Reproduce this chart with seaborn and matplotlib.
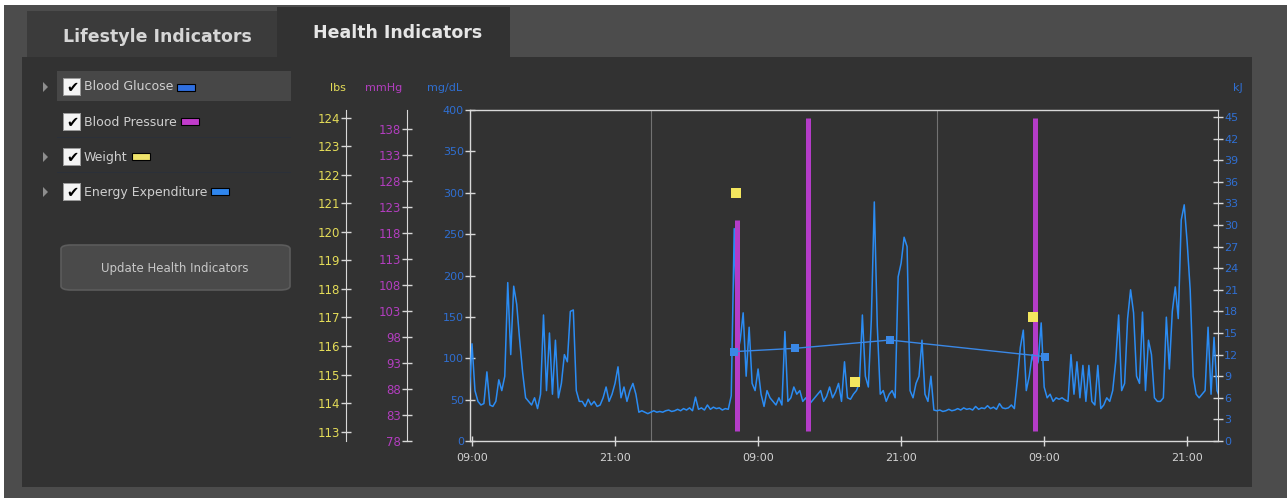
import matplotlib
matplotlib.use("Agg")
import matplotlib.pyplot as plt
import matplotlib.dates as mdates
from matplotlib.patches import Rectangle, FancyBboxPatch, Polygon
import pandas as pd
import seaborn as sns

W, H = 1287, 498

# energy expenditure (kJ), one reading every 15 min starting 08:45 on day 1
ee_start = "2013-05-06 08:45"
ee_freq = "15min"
ee_day1 = [5.8, 13.5, 7, 5.5, 5,
           5.2, 9.6, 5, 4.8, 5.5, 8.5, 7, 9, 22, 12, 21.5, 19,
           14, 9.5, 6, 5.5, 5, 6, 4.5, 6.5, 17.5, 7, 15, 6.5,
           14, 6, 8, 12, 11, 18, 18.2, 7, 5.5, 5.5, 4.8, 5.8,
           5, 5.5, 4.8, 5, 6, 7.5, 5.5, 6.5, 8, 10.3, 6, 7.5,
           5.5, 7, 8, 6.5, 4, 4.2, 4, 3.8]
ee_day2 = [4, 4.2, 4, 4.1, 4, 4.2, 4.3, 4.1, 4.2, 4.4, 4.2, 4.5,
           4.3, 4.6, 4.2, 6.1, 4.4, 4.6, 4.3, 5, 4.4, 4.7, 4.5, 4.6,
           4.3, 4.5, 4.4, 6.3, 29.5, 12, 14, 17.8, 9, 15.8, 8, 7,
           10, 6.5, 4.8, 7, 6, 5.5, 5, 6, 5, 15.2, 5.5, 6,
           7.5, 6.5, 7, 5.5, 6, 5, 5.5, 6, 6.5, 7, 5.5, 6.2,
           7.5, 6, 6.8, 8, 5.5, 11, 6, 5.8, 6.5, 7, 8, 17.5,
           9, 7.5, 16.8, 33.2, 16, 6.5, 7, 5.5, 6.5, 7, 6, 22.8,
           24.7, 28.3, 27, 7, 6, 8, 9, 14, 6.5, 5.5, 9, 4.3]
ee_day3 = [4.2, 4.3, 4.1, 4.2, 4.4, 4.2, 4.3, 4.5, 4.3, 4.6, 4.4, 4.5,
           4.3, 4.8, 4.4, 4.6, 4.5, 4.9, 4.5, 4.7, 4.4, 5.2, 4.6, 4.5,
           4.6, 5, 4.5, 8.5, 13, 15.4, 7, 9, 12, 10, 11, 16.4,
           7.5, 6, 6.5, 5.5, 6, 5.8, 6, 5.7, 5.5, 12, 6.5, 11,
           6, 10.5, 5.5, 10.5, 5.5, 5, 10.5, 4.5, 5, 6, 5.5, 7,
           11, 17.5, 7, 8, 17, 21, 17.8, 9, 8, 17.9, 7, 14,
           12, 6, 5.5, 5.5, 6, 17.2, 10, 18, 21.4, 17, 30.7, 32.8,
           27.5, 21, 9, 6.5, 6, 6.5, 7, 15.8, 6.5, 14.4, 7, 6]

glucose_time = ["2013-05-07 06:59", "2013-05-07 12:06", "2013-05-07 20:04", "2013-05-08 09:04"]
glucose_mgdl = [108, 112, 122, 102]

bp_time = ["2013-05-07 07:14", "2013-05-07 13:11", "2013-05-08 08:14"]
bp_systolic = [120.5, 140.2, 140.2]
bp_diastolic = [80, 80, 80]

weight_time = ["2013-05-07 07:09", "2013-05-07 17:08", "2013-05-08 08:04"]
weight_lbs = [121.35, 114.75, 117.0]

view_start, view_end = "2013-05-06 08:50", "2013-05-08 23:35"

legend_labels = ["Blood Glucose", "Blood Pressure", "Weight", "Energy Expenditure"]
legend_colors = ["#2f6fe0", "#c23ccc", "#efe36a", "#2f86ee"]
legend_expand = [True, False, True, True]

c_lbs, c_mmhg, c_blue = "#e4dc58", "#b23ebf", "#2f6fd2"
c_trace, c_bar, c_weight = "#2b8cf3", "#b43cc8", "#f3e65e"
panel = "#323232"
axis_white = "#d8d8d8"

sns.set_style("dark", {"axes.facecolor": "none", "figure.facecolor": "white"})
plt.rcParams["font.family"] = ["DejaVu Sans"]

fig = plt.figure(figsize=(W / 100, H / 100), dpi=100)


def fx(x):
    return x / W


def fy(y):
    return 1 - y / H


def rect(x0, y0, x1, y1, color, **kw):
    fig.add_artist(Rectangle((fx(x0), fy(y1)), (x1 - x0) / W, (y1 - y0) / H,
                             transform=fig.transFigure, facecolor=color,
                             edgecolor="none", zorder=-5, **kw))


# window chrome
rect(4, 5, W, H, "#4c4c4c")
rect(22, 57, 1252, 487, panel)
rect(27, 11, 277, 57, "#3b3b3b")
rect(277, 7, 510, 58, panel)
fig.text(fx(157), fy(37), "Lifestyle Indicators", color="#d6d6d6", fontsize=12.5,
         fontweight="bold", ha="center", va="center")
fig.text(fx(398), fy(33), "Health Indicators", color="#e6e6e6", fontsize=12.5,
         fontweight="bold", ha="center", va="center")

# left list of indicators
rect(57, 71, 291, 101, "#474747")
for sep in (137, 172):
    rect(57, sep, 291, sep + 1, "#2b3039")
fig.canvas.draw()
renderer = fig.canvas.get_renderer()
for i, (lab, col, exp) in enumerate(zip(legend_labels, legend_colors, legend_expand)):
    yc = 87 + 35 * i
    if exp:
        fig.add_artist(Polygon([(fx(43), fy(yc - 5)), (fx(43), fy(yc + 5)), (fx(48), fy(yc))],
                               closed=True, transform=fig.transFigure,
                               facecolor="#8e8e8e", edgecolor="none", zorder=-4))
    rect(63, yc - 9, 81, yc + 9, "#9a9a9a")
    rect(64, yc - 8, 80, yc + 8, "#f4f4f4")
    fig.text(fx(72), fy(yc + 0.5), "\u2714", color="black", fontsize=10.5,
             ha="center", va="center")
    t = fig.text(fx(84), fy(yc), lab, color="#cfcfcf", fontsize=9, va="center")
    bb = t.get_window_extent(renderer)
    sx = bb.x1 + 4
    fig.add_artist(Rectangle((sx / W, fy(yc + 3.5)), 18 / W, 7 / H,
                             transform=fig.transFigure, facecolor=col,
                             edgecolor="black", linewidth=0.8, zorder=-4))

fig.add_artist(FancyBboxPatch((fx(61), fy(290)), 229 / W, 45 / H,
                              boxstyle="round,pad=0,rounding_size=0.008",
                              transform=fig.transFigure, facecolor="#4a4a4a",
                              edgecolor="#5c5c5c", linewidth=1.2, zorder=-4))
fig.text(fx(175), fy(268), "Update Health Indicators", color="#c8c8c8",
         fontsize=8.5, ha="center", va="center")

# chart axes
ax = fig.add_axes([fx(470), fy(441), 748 / W, 331 / H])
ax_ee = ax.twinx()
ax_bp = ax.twinx()
ax_gl = ax.twinx()
ax_wt = ax.twinx()
for i, a in enumerate((ax, ax_ee, ax_bp, ax_gl, ax_wt)):
    a.set_zorder(i)
    a.patch.set_visible(False)
    for s in a.spines.values():
        s.set_visible(False)

ee = pd.DataFrame({
    "time": pd.date_range(ee_start, periods=len(ee_day1) + len(ee_day2) + len(ee_day3), freq=ee_freq),
    "kJ": ee_day1 + ee_day2 + ee_day3,
})
gl = pd.DataFrame({"time": pd.to_datetime(glucose_time), "mgdl": glucose_mgdl})
wt = pd.DataFrame({"time": pd.to_datetime(weight_time), "lbs": weight_lbs})

sns.lineplot(data=ee, x="time", y="kJ", ax=ax_ee, color=c_trace, linewidth=1.1)
ax_bp.vlines(pd.to_datetime(bp_time), bp_diastolic, bp_systolic, color=c_bar, linewidth=3.6)
sns.lineplot(data=gl, x="time", y="mgdl", ax=ax_gl, color="#3a88e6", linewidth=1.0,
             marker="s", markersize=6, markeredgewidth=0)
sns.scatterplot(data=wt, x="time", y="lbs", ax=ax_wt, color=c_weight, marker="s",
                s=45, linewidth=0)

ax.set_xlim(pd.Timestamp(view_start), pd.Timestamp(view_end))
ax.set_ylim(0, 400)
ax_gl.set_ylim(0, 400)
ax_ee.set_ylim(0, 45.97)
ax_bp.set_ylim(78, 141.7)
ax_wt.set_ylim(112.67, 124.27)

for a in (ax, ax_ee, ax_bp, ax_gl, ax_wt):
    a.set_xlabel("")
    a.set_ylabel("")

# x axis
ax.xaxis.set_major_locator(mdates.HourLocator(byhour=[9, 21]))
ax.xaxis.set_major_formatter(mdates.DateFormatter("%H:%M"))
ax.xaxis.set_minor_locator(mdates.HourLocator(byhour=[0]))
ax.grid(False)
ax.grid(True, which="minor", axis="x", color="#727272", linewidth=0.8)
ax.tick_params(axis="x", which="major", direction="inout", length=7, width=1,
               color=axis_white, labelcolor="#d2d2d2", labelsize=8, pad=5, bottom=True)
ax.tick_params(axis="x", which="minor", length=0)
for side in ("bottom", "top", "left"):
    ax.spines[side].set_visible(True)
    ax.spines[side].set_color(axis_white)
    ax.spines[side].set_linewidth(1)

# mg/dL
ax.set_yticks(range(0, 401, 50))
ax.tick_params(axis="y", direction="inout", length=7, width=1, color=axis_white,
               labelcolor=c_blue, labelsize=8, pad=1, left=True)

# kJ
ax_ee.spines["right"].set_visible(True)
ax_ee.spines["right"].set_color(axis_white)
ax_ee.set_yticks(range(0, 46, 3))
ax_ee.tick_params(axis="y", direction="inout", length=7, width=1, color=axis_white,
                  labelcolor=c_blue, labelsize=8, pad=1, right=True)

# mmHg and lbs on offset left spines
for a, pos, ticks, col in ((ax_bp, -0.0842, range(78, 139, 5), c_mmhg),
                           (ax_wt, -0.1658, range(113, 125), c_lbs)):
    a.yaxis.set_ticks_position("left")
    a.yaxis.set_label_position("left")
    a.spines["left"].set_visible(True)
    a.spines["left"].set_position(("axes", pos))
    a.spines["left"].set_color(axis_white)
    a.set_yticks(list(ticks))
    a.tick_params(axis="y", direction="inout", length=7, width=1, color=axis_white,
                  labelcolor=col, labelsize=8.5, pad=1, left=True, right=False)
ax_gl.set_yticks([])

# unit captions
fig.text(fx(338), fy(88), "lbs", color=c_lbs, fontsize=8, ha="center", va="center")
fig.text(fx(384), fy(88), "mmHg", color=c_mmhg, fontsize=8, ha="center", va="center")
fig.text(fx(445), fy(88), "mg/dL", color=c_blue, fontsize=8, ha="center", va="center")
fig.text(fx(1238), fy(88), "kJ", color=c_blue, fontsize=8, ha="center", va="center")

fig.savefig("out.png", dpi=100, facecolor=fig.get_facecolor())
